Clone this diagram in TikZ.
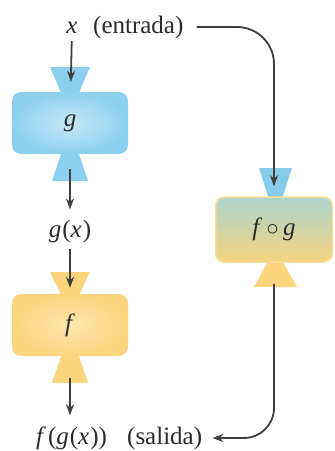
\documentclass[tikz,border=0pt]{standalone}
\usepackage{fontspec}
\setmainfont{Liberation Serif}
\usetikzlibrary{arrows.meta}
\definecolor{gblue}{HTML}{8DCFEF}
\definecolor{gblueL}{HTML}{C6E8F8}
\definecolor{fyel}{HTML}{FBD47E}
\definecolor{fyelL}{HTML}{FDE5AC}
\definecolor{fogtop}{HTML}{ABD3CD}
\definecolor{fogmid}{HTML}{C6D8B6}
\definecolor{fogbot}{HTML}{F6D47F}
\definecolor{fogfun}{HTML}{86CBE8}
\definecolor{ink}{HTML}{2A2A2A}
\begin{document}
\begin{tikzpicture}[x=1pt,y=-1pt,
  lbl/.style={font=\fontsize{25}{29}\selectfont, inner sep=0pt, text=ink},
  body/.style={rounded corners=9pt, minimum width=116pt, minimum height=62pt, inner sep=0pt, font=\fontsize{25}{29}\selectfont, text=ink},
  conn/.style={draw=ink!90, line width=1.8pt, -{Stealth[length=11pt,width=8pt]}},
]
\useasboundingbox (0,0) rectangle (335,451);

% labels
\node[lbl, anchor=base] (xin) at (72,33) {\textit{x}};
\node[lbl, anchor=base west] (entrada) at (93,33) {(entrada)};
\node[lbl, anchor=base] (gx) at (70,237) {\textit{g}\kern1pt(\textit{x}\kern1pt)};
\node[lbl, anchor=base west] (fgx) at (36,444) {\textit{f}\kern2pt(\textit{g}\kern1pt(\textit{x}\kern1pt))};
\node[lbl, anchor=base west] (salida) at (127,444) {(salida)};

% g machine
\fill[gblue] (50,67) -- (90,67) -- (78,95) -- (62,95) -- cycle;
\fill[gblue] (62,151) -- (78,151) -- (88,181) -- (52,181) -- cycle;
\node[body, inner color=gblueL, outer color=gblue] (g) at (70,123) {\textit{g}};

% f machine
\fill[fyel] (50,272) -- (90,272) -- (78,297) -- (62,297) -- cycle;
\fill[fyel] (62,353) -- (78,353) -- (88,383) -- (52,383) -- cycle;
\node[body, inner color=fyelL, outer color=fyel] (f) at (70,325) {\textit{f}};

% f o g machine
\fill[fogfun] (259,168) -- (292,168) -- (282,199) -- (269,199) -- cycle;
\fill[fyel] (269,260) -- (282,260) -- (297,287) -- (254,287) -- cycle;
\node[body, minimum width=117pt, minimum height=65pt, draw=fyel!80, line width=1.5pt,
      top color=fogtop, middle color=fogmid, bottom color=fogbot] (fog) at (274,229.5)
      {\textit{f}\,$\circ$\,\textit{g}};

% connectors
\draw[conn, shorten <=8pt, shorten >=10pt] (xin) -- (g);
\draw[conn, shorten <=15pt, shorten >=10pt] (g) -- (gx);
\draw[conn, shorten <=6pt, shorten >=6pt] (gx) -- (f);
\draw[conn, shorten <=22pt, shorten >=11pt] (f.south) -- (f.south |- fgx.north);
\draw[conn, rounded corners=37pt, shorten <=13pt, shorten >=10pt] (entrada.east) -| (fog.north);
\draw[conn, rounded corners=30pt, shorten <=21pt, shorten >=10pt] (fog.south) |- (salida.east);
\end{tikzpicture}
\end{document}
